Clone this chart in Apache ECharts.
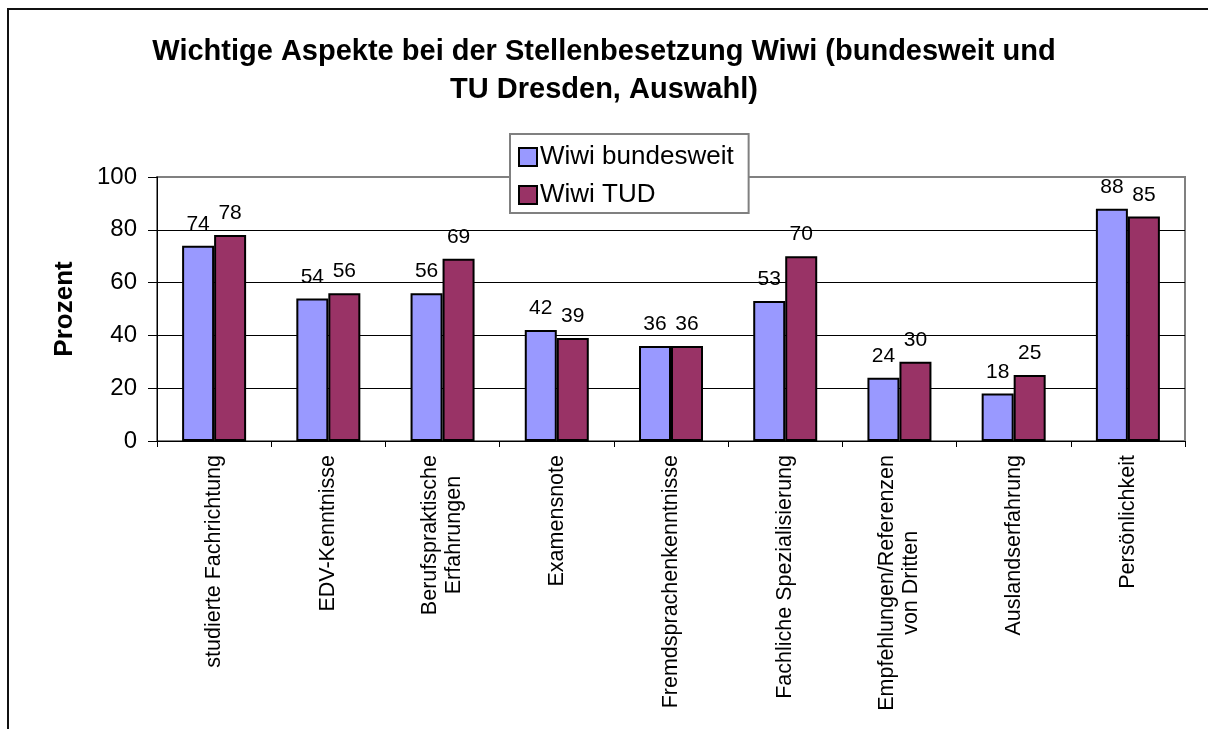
<!DOCTYPE html>
<html>
<head>
<meta charset="utf-8">
<script src="https://cdn.jsdelivr.net/npm/echarts@6/dist/echarts.min.js"></script>
<style>
  html, body { margin: 0; padding: 0; background: #fff; }
  #chart { width: 1208px; height: 729px; }
</style>
</head>
<body>
<div id="chart"></div>
<script>
// Aspects asked about in the survey (x axis)
const categories = [
  'studierte Fachrichtung',
  'EDV-Kenntnisse',
  'Berufspraktische\nErfahrungen',
  'Examensnote',
  'Fremdsprachenkenntnisse',
  'Fachliche Spezialisierung',
  'Empfehlungen/Referenzen\nvon Dritten',
  'Auslandserfahrung',
  'Persönlichkeit'
];

// Share of answers in percent
const wiwiBundesweit = [74, 54, 56, 42, 36, 53, 24, 18, 88];
const wiwiTUD = [78, 56, 69, 39, 36, 70, 30, 25, 85];

const seriesNames = ['Wiwi bundesweit', 'Wiwi TUD'];
const titleText = 'Wichtige Aspekte bei der Stellenbesetzung Wiwi (bundesweit und\nTU Dresden, Auswahl)';
const yAxisName = 'Prozent';

const FONT = "'Liberation Sans', Arial, sans-serif";

const chart = echarts.init(document.getElementById('chart'), null, { renderer: 'canvas' });

const barLabel = {
  show: true,
  position: 'top',
  distance: 11,
  color: '#000',
  fontFamily: FONT,
  fontSize: 21
};

chart.setOption({
  backgroundColor: '#fff',
  animation: false,
  title: {
    text: titleText,
    left: 'center',
    top: 33,
    padding: 0,
    textStyle: {
      fontFamily: FONT,
      fontWeight: 'bold',
      fontSize: 29,
      lineHeight: 38,
      color: '#000'
    }
  },
  legend: {
    orient: 'vertical',
    left: 510,
    top: 134,
    padding: [9, 15, 4, 8],
    itemGap: 10,
    itemWidth: 18,
    itemHeight: 18,
    icon: 'rect',
    backgroundColor: '#fff',
    borderColor: '#808080',
    borderWidth: 2,
    borderRadius: 0,
    textStyle: {
      fontFamily: FONT,
      fontSize: 26,
      lineHeight: 28,
      color: '#000',
      padding: [0, 0, 0, -2]
    },
    data: seriesNames
  },
  grid: {
    left: 157,
    top: 177,
    right: 23,
    bottom: 288,
    show: true,
    borderColor: '#808080',
    borderWidth: 2,
    backgroundColor: 'transparent'
  },
  xAxis: {
    type: 'category',
    data: categories,
    axisLine: { show: true, lineStyle: { color: '#000', width: 1 } },
    axisTick: { show: true, length: 6, lineStyle: { color: '#000', width: 1 } },
    axisLabel: {
      interval: 0,
      rotate: 90,
      margin: 14,
      color: '#000',
      fontFamily: FONT,
      fontSize: 21.5,
      lineHeight: 24,
      formatter: function (value) {
        return value.split('\n').map(function (line) { return '{c|' + line + '}'; }).join('\n');
      },
      rich: {
        c: { align: 'center', fontFamily: FONT, fontSize: 21.5, lineHeight: 24, color: '#000' }
      }
    }
  },
  yAxis: {
    type: 'value',
    min: 0,
    max: 100,
    interval: 20,
    name: yAxisName,
    nameLocation: 'middle',
    nameRotate: 90,
    nameGap: 79,
    nameTextStyle: {
      fontFamily: FONT,
      fontWeight: 'bold',
      fontSize: 26,
      color: '#000'
    },
    axisLine: { show: true, lineStyle: { color: '#000', width: 1 } },
    axisTick: { show: true, length: 9, lineStyle: { color: '#000', width: 1 } },
    axisLabel: {
      margin: 20,
      color: '#000',
      fontFamily: FONT,
      fontSize: 24
    },
    splitLine: {
      show: true,
      lineStyle: {
        color: ['#000', '#000', '#000', '#000', '#000', '#808080'],
        width: 1
      }
    }
  },
  series: [
    {
      name: seriesNames[0],
      type: 'bar',
      data: wiwiBundesweit,
      barWidth: 32,
      barGap: '0%',
      itemStyle: { color: '#9999FF', borderColor: '#000', borderWidth: 2 },
      label: barLabel
    },
    {
      name: seriesNames[1],
      type: 'bar',
      data: wiwiTUD,
      barWidth: 32,
      barGap: '0%',
      itemStyle: { color: '#993366', borderColor: '#000', borderWidth: 2 },
      label: barLabel
    }
  ],
  graphic: [
    {
      type: 'rect',
      silent: true,
      z: 100,
      shape: { x: 8, y: 9, width: 1400, height: 1000 },
      style: { fill: null, stroke: '#111', lineWidth: 2 }
    }
  ]
});
</script>
</body>
</html>
